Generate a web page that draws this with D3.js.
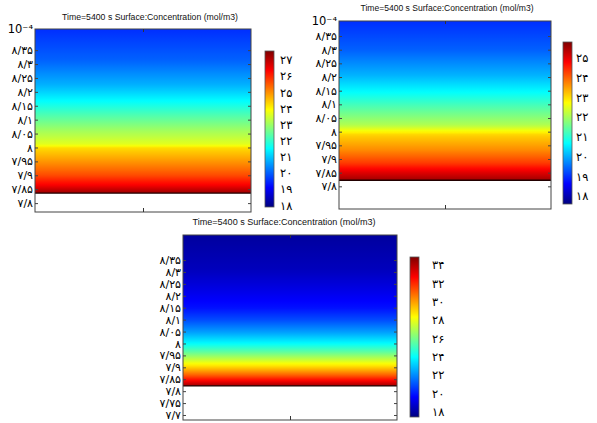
<!DOCTYPE html>
<html><head><meta charset="utf-8">
<script src="https://cdn.jsdelivr.net/npm/d3@7"></script>
<style>body{margin:0;background:#fff}svg{display:block}</style>
</head><body><svg id="c" width="597" height="423"></svg>
<script>
// ---------- data ----------
const titleText = "Time=5400 s  Surface:Concentration (mol/m3)";
const expLabel = "10\u207B\u2074";

// panel 1 (top-left)
const p1Y = [8.426, 8.314, 8.224, 8.171, 8.117, 8.063, 8.009, 7.998, 7.955, 7.901, 7.865, 7.836];
const p1C = [19.54, 20.03, 20.8, 21.47, 22.25, 23.02, 23.7, 24.28, 24.86, 25.63, 26.4, 27.3];
const p1YRange = [7.768, 8.426];
const p1CRange = [17.9, 27.56];
const p1YTicks = [7.8, 7.85, 7.9, 7.95, 8, 8.05, 8.1, 8.15, 8.2, 8.25, 8.3, 8.35];
const p1CTicks = [18, 19, 20, 21, 22, 23, 24, 25, 26, 27];

// panel 2 (top-right)
const p2Y = [8.405, 8.299, 8.207, 8.145, 8.079, 8.024, 8.003, 7.988, 7.933, 7.885, 7.853, 7.822];
const p2C = [18.99, 19.4, 20.06, 20.68, 21.45, 22.11, 22.68, 23.09, 23.67, 24.32, 24.98, 25.55];
const p2YRange = [7.717, 8.405];
const p2CRange = [17.6, 25.81];
const p2YTicks = [7.8, 7.85, 7.9, 7.95, 8, 8.05, 8.1, 8.15, 8.2, 8.25, 8.3, 8.35];
const p2CTicks = [18, 19, 20, 21, 22, 23, 24, 25];

// panel 3 (bottom)
const p3Y = [8.455, 8.308, 8.224, 8.149, 8.098, 8.048, 8.002, 7.964, 7.922, 7.897, 7.868, 7.843, 7.822];
const p3C = [17.97, 18.5, 19.19, 19.89, 20.93, 22.33, 23.9, 25.64, 27.9, 29.3, 31.04, 32.78, 34.35];
const p3YRange = [7.679, 8.455];
const p3CRange = [17.45, 34.87];
const p3YTicks = [7.7, 7.75, 7.8, 7.85, 7.9, 7.95, 8, 8.05, 8.1, 8.15, 8.2, 8.25, 8.3, 8.35];
const p3CTicks = [18, 20, 22, 24, 26, 28, 30, 32, 34];

const xRange = [0, 1];
const xTicks = [0.5];

// ---------- helpers ----------
const faDigits = "۰۱۲۳۴۵۶۷۸۹";
function fa(v) {
  const s = d3.format(".2~f")(v);
  return s.replace(/\./g, "/").replace(/[0-9]/g, d => faDigits[+d]);
}
function cl(v) { return Math.max(0, Math.min(1, v)); }
function jet(t) {
  t = cl(t);
  const r = cl(1.5 - Math.abs(4 * t - 3)), g = cl(1.5 - Math.abs(4 * t - 2)), b = cl(1.5 - Math.abs(4 * t - 1));
  return d3.rgb(r * 255, g * 255, b * 255).formatHex();
}

const svg = d3.select("#c");
const defs = svg.append("defs");
const FONT = "'DejaVu Sans', sans-serif";

const panels = [
  { id: 1, Y: p1Y, C: p1C, yR: p1YRange, cR: p1CRange, yT: p1YTicks, cT: p1CTicks, exp: true,
    box: [35, 251, 29, 212], cb: [265, 274, 51, 207], cbLab: 280, title: [150, 20, 176] },
  { id: 2, Y: p2Y, C: p2C, yR: p2YRange, cR: p2CRange, yT: p2YTicks, cT: p2CTicks, exp: true,
    box: [339, 551, 21, 209], cb: [563, 572, 42, 204], cbLab: 576, title: [447, 11, 173] },
  { id: 3, Y: p3Y, C: p3C, yR: p3YRange, cR: p3CRange, yT: p3YTicks, cT: p3CTicks, exp: false,
    box: [183, 397, 235, 420], cb: [410, 419, 257, 417], cbLab: 432, title: [284, 225, 183] }
];

panels.forEach(p => {
  const [x0, x1, y0, y1] = p.box;
  const g = svg.append("g");
  const xs = d3.scaleLinear().domain(xRange).range([x0, x1]);
  const ys = d3.scaleLinear().domain(p.yR).range([y1, y0]);
  const cs = d3.scaleLinear().domain(p.cR).range([0, 1]);
  const prof = d3.scaleLinear().domain(p.Y).range(p.C);

  // gradient for the concentration band
  const ga = ys(p.Y[0]), gb = ys(p.Y[p.Y.length - 1]);
  const grad = defs.append("linearGradient").attr("id", "band" + p.id)
    .attr("gradientUnits", "userSpaceOnUse").attr("x1", 0).attr("x2", 0).attr("y1", ga).attr("y2", gb);
  const N = 80;
  d3.range(N + 1).forEach(k => {
    const yv = p.Y[0] + (p.Y[p.Y.length - 1] - p.Y[0]) * k / N;
    grad.append("stop").attr("offset", k / N).attr("stop-color", jet(cs(prof(yv))));
  });
  g.append("rect").attr("x", xs(xRange[0])).attr("y", ga).attr("width", xs(xRange[1]) - xs(xRange[0]))
    .attr("height", gb - ga).attr("fill", "url(#band" + p.id + ")");
  g.append("line").attr("x1", x0).attr("x2", x1).attr("y1", gb).attr("y2", gb)
    .attr("stroke", "#200").attr("stroke-width", 1.4);

  // frame
  g.append("rect").attr("x", x0).attr("y", y0).attr("width", x1 - x0).attr("height", y1 - y0)
    .attr("fill", "none").attr("stroke", "#444").attr("stroke-width", 1);

  // axes
  const la = g.append("g").attr("transform", `translate(${x0},0)`)
    .call(d3.axisLeft(ys).tickValues(p.yT).tickSize(-3).tickPadding(2).tickFormat(fa));
  la.select(".domain").remove();
  la.selectAll("text").attr("font-family", FONT).attr("font-size", 11).attr("fill", "#000");
  la.selectAll("line").attr("stroke", "#444");
  const ra = g.append("g").attr("transform", `translate(${x1},0)`)
    .call(d3.axisRight(ys).tickValues(p.yT).tickSize(-3).tickFormat(""));
  ra.select(".domain").remove(); ra.selectAll("line").attr("stroke", "#444");
  const ba = g.append("g").attr("transform", `translate(0,${y1})`)
    .call(d3.axisBottom(xs).tickValues(xTicks).tickSize(-4).tickFormat(""));
  ba.select(".domain").remove(); ba.selectAll("line").attr("stroke", "#333");
  const ta = g.append("g").attr("transform", `translate(0,${y0})`)
    .call(d3.axisTop(xs).tickValues(xTicks).tickSize(-3).tickFormat(""));
  ta.select(".domain").remove(); ta.selectAll("line").attr("stroke", "#333");

  if (p.exp) {
    g.append("text").attr("x", x0 - 2).attr("y", y0 + 4).attr("text-anchor", "end")
      .attr("font-family", FONT).attr("font-size", 11.5).attr("fill", "#000").text(expLabel);
  }

  // title
  g.append("text").attr("x", p.title[0]).attr("y", p.title[1]).attr("text-anchor", "middle")
    .attr("font-family", "'Liberation Sans', Arial, sans-serif").attr("font-size", 8.5).attr("fill", "#111")
    .attr("textLength", p.title[2]).attr("lengthAdjust", "spacingAndGlyphs").text(titleText);

  // colorbar
  const [cx0, cx1, cy0, cy1] = p.cb;
  const cbs = d3.scaleLinear().domain(p.cR).range([cy1, cy0]);
  const cg = defs.append("linearGradient").attr("id", "cb" + p.id)
    .attr("x1", 0).attr("x2", 0).attr("y1", 1).attr("y2", 0);
  d3.range(41).forEach(k => cg.append("stop").attr("offset", k / 40).attr("stop-color", jet(k / 40)));
  g.append("rect").attr("x", cx0).attr("y", cy0).attr("width", cx1 - cx0).attr("height", cy1 - cy0)
    .attr("fill", "url(#cb" + p.id + ")").attr("stroke", "#555").attr("stroke-width", 0.8);
  const ca = g.append("g").attr("transform", `translate(${cx1},0)`)
    .call(d3.axisRight(cbs).tickValues(p.cT).tickSize(0).tickPadding(p.cbLab - cx1).tickFormat(fa));
  ca.select(".domain").remove();
  ca.selectAll("text").attr("font-family", FONT).attr("font-size", 11.5).attr("fill", "#000");
});
</script></body></html>
